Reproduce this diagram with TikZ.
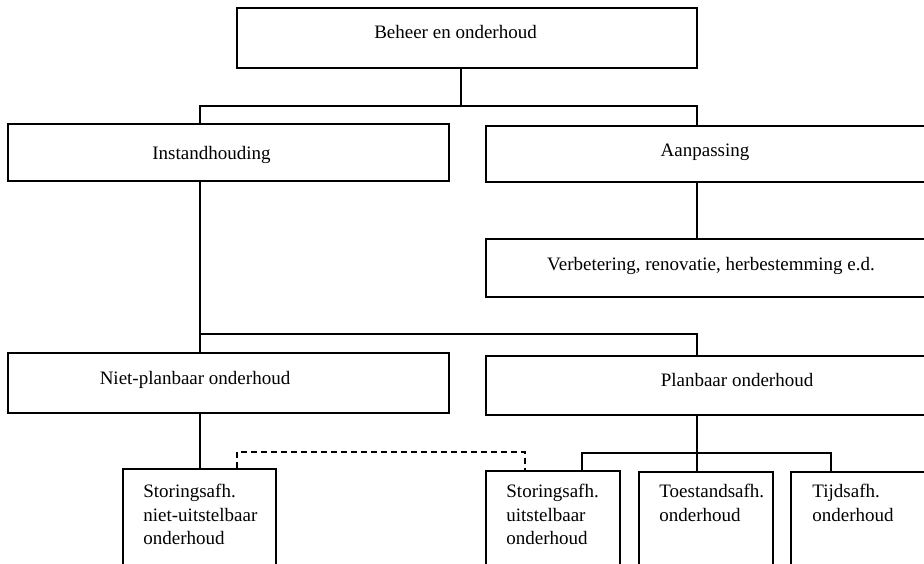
\documentclass[tikz,border=0pt]{standalone}
\usepackage{fontspec}
\setmainfont{Liberation Serif}
\usetikzlibrary{positioning}
\tikzstyle{block}=[
draw,
line width=1pt,
inner sep=0pt
]
\tikzstyle{tekst}=[
inner sep=0pt,
font=\fontsize{9.5}{11.75}\selectfont
]
\tikzstyle{line}=[
line width=1pt
]

\begin{document}
\begin{tikzpicture}[x=0.5pt,y=-0.5pt]
\useasboundingbox (0,0) rectangle (924,563);
\clip (0,0) rectangle (924,563);

% boxes
\node (beheer) [block, minimum width=230pt, minimum height=30pt] at (467,38) {};
\node (instand) [block, minimum width=220.5pt, minimum height=28.5pt] at (228.5,152.5) {};
\node (aanpas) [block, minimum width=237pt, minimum height=28pt] at (723,154) {};
\node (verbet) [block, minimum width=237pt, minimum height=29pt] at (723,268) {};
\node (nietplan) [block, minimum width=220.5pt, minimum height=30pt] at (228.5,383) {};
\node (planb) [block, minimum width=237pt, minimum height=29.5pt] at (723,385.5) {};
\node (stornu) [block, minimum width=76.5pt, minimum height=75.5pt] at (199.5,544.5) {};
\node (storu) [block, minimum width=67pt, minimum height=74.5pt] at (553,545.5) {};
\node (toest) [block, minimum width=67pt, minimum height=74pt] at (706,546) {};
\node (tijd) [block, minimum width=84.5pt, minimum height=74pt] at (875.5,546) {};

% texts
\node (beheer-t) [tekst, anchor=base] at (455.5,38) {Beheer en onderhoud};
\node (instand-t) [tekst, anchor=base] at (211.5,159) {Instandhouding};
\node (aanpas-t) [tekst, anchor=base] at (705,156) {Aanpassing};
\node (verbet-t) [tekst, anchor=base] at (711,270) {Verbetering, renovatie, herbestemming e.d.};
\node (nietplan-t) [tekst, anchor=base] at (195,384) {Niet-planbaar onderhoud};
\node (planb-t) [tekst, anchor=base] at (737,386) {Planbaar onderhoud};
\node (stornu-t) [tekst, anchor=north west, align=left] at (143,484) {Storingsafh.\\niet-uitstelbaar\\onderhoud};
\node (storu-t) [tekst, anchor=north west, align=left] at (506,484) {Storingsafh.\\uitstelbaar\\onderhoud};
\node (toest-t) [tekst, anchor=north west, align=left] at (659,484) {Toestandsafh.\\onderhoud};
\node (tijd-t) [tekst, anchor=north west, align=left] at (812,484) {Tijdsafh.\\onderhoud};

% connector columns and bars
\coordinate (colB) at (461,0);
\coordinate (colL) at (200,0);
\coordinate (colR) at (697,0);
\coordinate (colS1) at (582,0);
\coordinate (colS3) at (831,0);
\coordinate (dashL) at (237,0);
\coordinate (dashR) at (525,0);
\coordinate (bar1) at (0,106);
\coordinate (bar2) at (0,334);
\coordinate (bar3) at (0,453);
\coordinate (bar4) at (0,452);

\draw [line] (beheer.south -| colB) -- (bar1 -| colB);
\draw [line] (instand.north -| colL) |- (bar1 -| colR) -- (aanpas.north -| colR);
\draw [line] (aanpas.south -| colR) -- (verbet.north -| colR);
\draw [line] (instand.south -| colL) -- (nietplan.north -| colL);
\draw [line] (bar2 -| colL) -| (planb.north -| colR);
\draw [line] (nietplan.south -| colL) -- (stornu.north -| colL);
\draw [line] (planb.south -| colR) -- (toest.north -| colR);
\draw [line] (storu.north -| colS1) |- (bar3 -| colS3) -- (tijd.north -| colS3);
\draw [line, dash pattern=on 3pt off 2pt] (stornu.north -| dashL) |- (bar4 -| dashR) -- (storu.north -| dashR);

\end{tikzpicture}
\end{document}
